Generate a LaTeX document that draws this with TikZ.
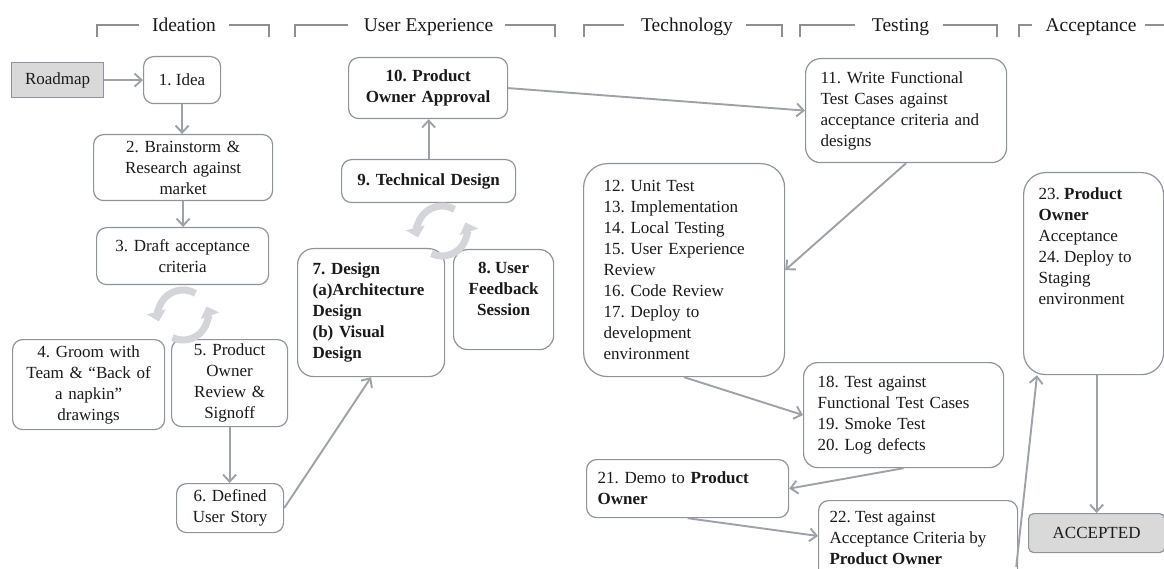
\documentclass[tikz,border=0pt]{standalone}
\usepackage{fontspec}
\setmainfont{Liberation Serif}
\usetikzlibrary{arrows.meta,calc}
\frenchspacing

\definecolor{edge}{HTML}{8F949C}
\definecolor{link}{HTML}{9DA1A8}
\definecolor{ring}{HTML}{D3D5DA}
\definecolor{tag}{HTML}{D9D9D9}
\definecolor{rulec}{HTML}{8C9096}
\definecolor{ink}{HTML}{1A1A1A}

\tikzset{
  box/.style={draw=edge, line width=1.2pt, fill=white, rounded corners=10pt,
    anchor=north west, inner ysep=2pt, text=ink,
    font=\fontsize{17}{21}\selectfont},
  bbox/.style={box, font=\fontsize{17}{21}\selectfont\bfseries},
  tagbox/.style={box, fill=tag},
  link/.style={draw=link, line width=1.9pt, -{Straight Barb[length=7pt,width=13pt]}},
  cyc/.style={draw=ring, line width=7pt, -{Triangle[length=10pt,width=19pt]}},
  bracket/.style={draw=rulec, line width=1.1pt},
  head/.style={anchor=base, text=ink, inner sep=0pt, font=\fontsize{19.5}{22}\selectfont},
}

\begin{document}
\begin{tikzpicture}[x=1pt, y=-1pt]
\useasboundingbox (0,0) rectangle (1164,569);
\clip (0,0) rectangle (1164,569);

% phase headers with their brackets
\node[head] (hI) at (184,32) {Ideation};
\draw[bracket] (97,37) -- (97,25) -- (139,25);
\draw[bracket] (229,25) -- (269,25) -- (269,37);
\node[head] (hU) at (428.5,32) {User Experience};
\draw[bracket] (295,37) -- (295,25) -- (348,25);
\draw[bracket] (505,25) -- (555,25) -- (555,37);
\node[head] (hT) at (687,32) {Technology};
\draw[bracket] (584,37) -- (584,25) -- (624,25);
\draw[bracket] (746,25) -- (782,25) -- (782,37);
\node[head] (hS) at (900.5,32) {Testing};
\draw[bracket] (800,37) -- (800,25) -- (855,25);
\draw[bracket] (943,25) -- (997,25) -- (997,37);
\node[head] (hA) at (1091,32) {Acceptance};
\draw[bracket] (1019,37) -- (1019,25) -- (1032,25);
\draw[bracket] (1145,25) -- (1164,25);

% ideation
\node[tagbox, rounded corners=0pt, minimum width=92pt, minimum height=35pt] (road) at (11,62) {Roadmap};
\node[box, minimum width=77pt, minimum height=47pt] (n1) at (143,56) {1. Idea};
\node[box, text width=165pt, inner xsep=7pt, minimum height=66pt, align=center] (n2) at (93,134)
  {2. Brainstorm \&\\Research against\\market};
\node[box, text width=158pt, inner xsep=7pt, minimum height=57pt, align=center] (n3) at (96,227)
  {3. Draft acceptance\\criteria};
\node[box, text width=138pt, inner xsep=7pt, minimum height=90pt, align=center] (n4) at (12,339)
  {4. Groom with\\Team \& “Back of\\a napkin”\\drawings};
\node[box, text width=102pt, inner xsep=7pt, minimum height=87pt, align=center] (n5) at (171,339)
  {5. Product\\Owner\\Review \&\\Signoff};
\node[box, text width=93pt, inner xsep=7pt, minimum height=49pt, align=center] (n6) at (176,483)
  {6. Defined\\User Story};

% user experience
\node[bbox, text width=117pt, inner xsep=15pt, minimum height=128pt, align=left, rounded corners=16pt] (n7) at (297,248)
  {7. Design\\(a)Architecture\\Design\\(b) Visual\\Design};
\node[bbox, inner xsep=0pt, inner ysep=0pt, rounded corners=14pt] (n8) at (453,249)
  {\parbox[c][100pt][t]{100pt}{\centering\vspace*{9.3pt}\strut 8. User\\Feedback\\Session}};
\node[bbox, text width=160pt, inner xsep=7pt, minimum height=43pt, align=center] (n9) at (341,159)
  {9. Technical Design};
\node[bbox, text width=145pt, inner xsep=7pt, minimum height=61pt, align=center] (n10) at (348,57)
  {10. Product\\Owner Approval};

% technology and testing
\node[box, text width=171pt, inner xsep=15pt, minimum height=104pt, align=left, rounded corners=15pt] (n11) at (805,58)
  {11. Write Functional\\Test Cases against\\acceptance criteria and\\designs};
\node[box, text width=161pt, inner xsep=20pt, minimum height=213pt, align=left, rounded corners=24pt] (n12) at (583,163)
  {12. Unit Test\\13. Implementation\\14. Local Testing\\15. User Experience\\Review\\16. Code Review\\17. Deploy to\\development\\environment};
\node[box, text width=172pt, inner xsep=14pt, minimum height=105pt, align=left, rounded corners=14pt] (n18) at (803,362)
  {18. Test against\\Functional Test Cases\\19. Smoke Test\\20. Log defects};
\node[box, text width=180pt, inner xsep=11pt, minimum height=58pt, align=left] (n21) at (586,459)
  {21. Demo to \textbf{Product}\\\textbf{Owner}};
\node[box, inner xsep=11pt, inner ysep=0pt] (n22) at (818,500)
  {\parbox[c][85pt][t]{177pt}{\raggedright\vspace*{7.3pt}\strut 22. Test against\\Acceptance Criteria by\\\textbf{Product Owner}}};

% acceptance
\node[box, inner xsep=15pt, inner ysep=0pt, rounded corners=22pt] (n23) at (1023,172)
  {\parbox[c][202pt][t]{110pt}{\raggedright\vspace*{12.3pt}\strut 23. \textbf{Product}\\\textbf{Owner}\\Acceptance\\24. Deploy to\\Staging\\environment}};
\node[tagbox, rounded corners=5pt, minimum width=136pt, minimum height=39pt] (acc) at (1028,513) {ACCEPTED};

% iteration rings
\coordinate (cycI) at (183,315);
\draw[cyc] ([shift={(60:25pt)}]cycI) arc[start angle=60, end angle=195, radius=25pt];
\draw[cyc] ([shift={(245:25pt)}]cycI) arc[start angle=245, end angle=380, radius=25pt];
\coordinate (cycU) at (442,231);
\draw[cyc] ([shift={(60:25pt)}]cycU) arc[start angle=60, end angle=195, radius=25pt];
\draw[cyc] ([shift={(245:25pt)}]cycU) arc[start angle=245, end angle=380, radius=25pt];

% flow
\draw[link] (road.east) -- (n1.west);
\draw[link] (n1.south) -- (n1.south |- n2.north);
\draw[link] (n2.south) -- (n2.south |- n3.north);
\draw[link] (n5.south) -- (n5.south |- n6.north);
\draw[link] (n6.east) -- (n7.south);
\draw[link] (n9.north) -- (n9.north |- n10.south);
\draw[link] (n10.east) -- (n11.west);
\draw[link] (n11.south) -- (n12.east);
\draw[link] (n12.south) -- (n18.west);
\draw[link] (n18.south) -- (n21.east);
\draw[link] (n21.south) -- ($(n22.north west)+(0,36)$);
\draw[link] ($(n22.north east)+(-2,67)$) -- ($(n23.south west)+(14,0)$);
\draw[link] (acc.north |- n23.south) -- (acc.north);
\end{tikzpicture}
\end{document}
